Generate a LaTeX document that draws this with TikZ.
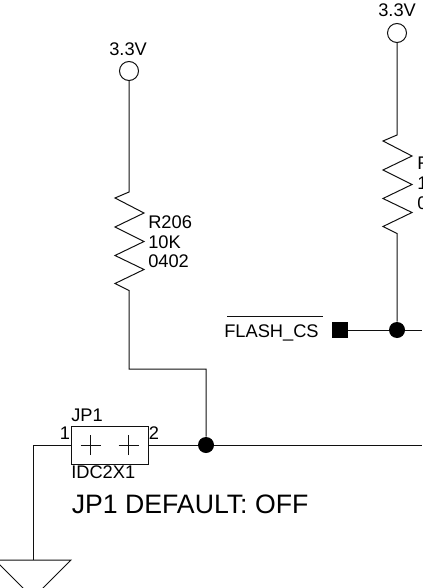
\documentclass[tikz,border=0pt]{standalone}
\usepackage{tikz}
\usepackage{xcolor}
\usepackage{fontspec}
\setmainfont{Liberation Sans}
\definecolor{wiredark}{HTML}{101010}
\tikzset{
	wire/.style={color=wiredark, line width=.75pt},
	label/.style={inner sep=0, text=black, font=\fontsize{13.7}{15}\selectfont, anchor=base west},
	power/.style={circle, draw=wiredark, line width=.75pt, inner sep=0, minimum size=14.25pt},
	junction/.style={circle, fill=black, inner sep=0, minimum size=12pt},
	offpage/.style={rectangle, fill=black, inner sep=0, minimum size=12pt},
	header/.style={rectangle, draw=wiredark, line width=.75pt, inner sep=0, minimum width=57.75pt, minimum height=28.5pt}
}
\begin{document}
\begin{tikzpicture}[x=.75pt, y=-.75pt]
	\useasboundingbox (0,0) rectangle (422,588);
	% supply pins
	\node[power] (vccA) at (129,71) {};
	\node[power] (vccB) at (397,33) {};
	\node[label] (vccAtext) at (109,56) {3.3V};
	\node[label] (vccBtext) at (378,17) {3.3V};
	% junctions and header
	\node[junction] (dotA) at (206,445) {};
	\node[junction] (dotB) at (397,330) {};
	\node[offpage] (csPin) at (340,330) {};
	\node[header] (jp1) at (109.5,445) {};
	\coordinate (rA) at (129,192);
	\coordinate (rB) at (397,135);
	\coordinate (bendA) at (129,369);
	\coordinate (netA) at (422,445);
	\coordinate (netB) at (422,330);
	\coordinate (gnd) at (33,560);
	% left resistor
	\draw[wire] (vccA) -- (rA) -- ++(-14,6) -- ++(29,15) -- ++(-29,14) -- ++(29,14.5) -- ++(-29,14) -- ++(29,14) -- ++(-29,14) -- ++(14,7) -- (bendA) -| (dotA);
	% right resistor
	\draw[wire] (vccB) -- (rB) -- ++(-14,6) -- ++(29,15) -- ++(-29,14) -- ++(29,14.5) -- ++(-29,14) -- ++(29,14) -- ++(-29,14) -- ++(14,7) -- (dotB);
	\draw[wire] (csPin) -- (dotB) -- (netB);
	\draw[wire] (jp1) -- (dotA) -- (netA);
	\draw[wire] (jp1.west) -| (gnd);
	\draw[wire] (gnd) -- ++(38,0) -- ++(-38,38) -- ++(-38,-38) -- cycle;
	% header pins
	\foreach \i in {-19,19} {
		\draw[color=wiredark, line width=.6pt] ([xshift=\i*.75pt-7.5pt]jp1.center) -- ([xshift=\i*.75pt+7.5pt]jp1.center);
		\draw[color=wiredark, line width=.6pt] ([xshift=\i*.75pt, yshift=-7.5pt]jp1.center) -- ([xshift=\i*.75pt, yshift=7.5pt]jp1.center);
	}
	% texts
	\node[label] (r206) at (148,228) {R206};
	\node[label] (r206val) at (148,248) {10K};
	\node[label] (r206size) at (148,267) {0402};
	\node[label] (rBname) at (417,169) {R};
	\node[label] (rBval) at (417,189) {1};
	\node[label] (rBsize) at (417,209) {0};
	\node[label] (flashcs) at (224,337) {FLASH\_CS};
	\draw[color=wiredark, line width=.6pt] (227,316) -- (323,316);
	\node[label] (jp1name) at (71,421) {JP1};
	\node[label] (jp1type) at (71,478) {IDC2X1};
	\node[label] (pinone) at (59.5,439) {1};
	\node[label] (pintwo) at (148.5,439) {2};
	\node[label, font=\fontsize{20}{24}\selectfont] (jp1note) at (71.5,513) {JP1 DEFAULT: OFF};
\end{tikzpicture}
\end{document}
